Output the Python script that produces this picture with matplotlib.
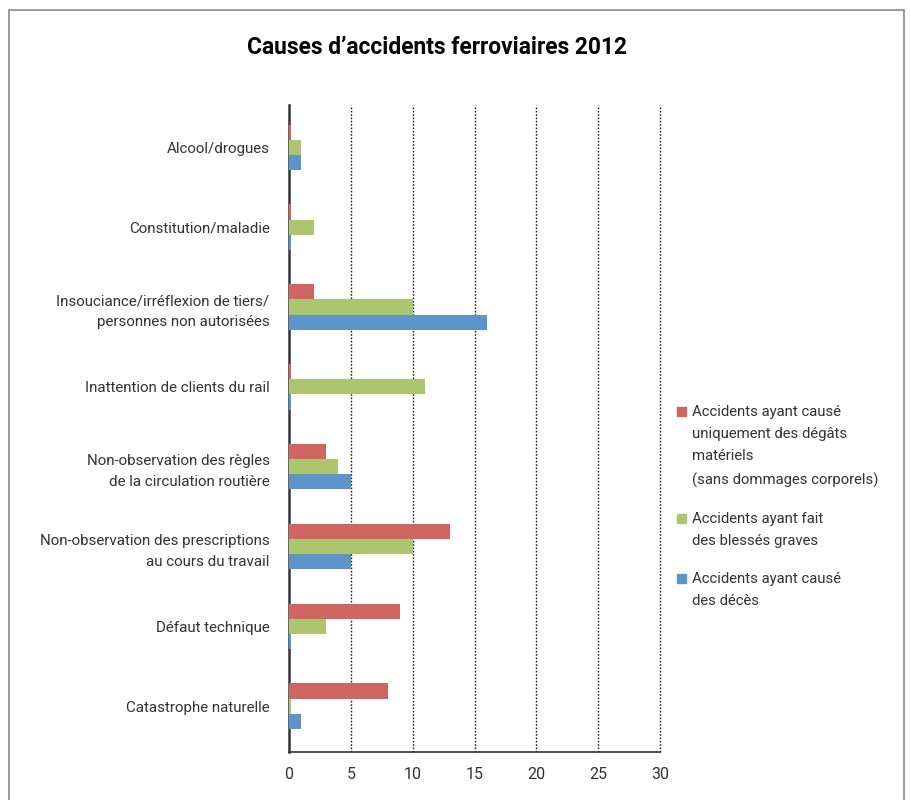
import numpy as np
import matplotlib
matplotlib.use("Agg")
import matplotlib.pyplot as plt
from matplotlib.patches import Rectangle

plt.rcParams['font.family'] = ['Roboto', 'DejaVu Sans']

categories = [
    "Alcool/drogues",
    "Constitution/maladie",
    "Insouciance/irréflexion de tiers/\npersonnes non autorisées",
    "Inattention de clients du rail",
    "Non-observation des règles\nde la circulation routière",
    "Non-observation des prescriptions\nau cours du travail",
    "Défaut technique",
    "Catastrophe naturelle",
]
degats_materiels = [0, 0, 2, 0, 3, 13, 9, 8]
blesses_graves = [1, 2, 10, 11, 4, 10, 3, 0]
deces = [1, 0, 16, 0, 5, 5, 0, 1]

series_labels = [
    "Accidents ayant causé\nuniquement des dégâts\nmatériels\n(sans dommages corporels)",
    "Accidents ayant fait\ndes blessés graves",
    "Accidents ayant causé\ndes décès",
]
colors = ["#CF6661", "#AEC56F", "#5D95CA"]
x_ticks = [0, 5, 10, 15, 20, 25, 30]
title = "Causes d\u2019accidents ferroviaires 2012"

W, H = 912, 800
fig = plt.figure(figsize=(W / 100, H / 100), dpi=100)

# outer frame (runs past the bottom edge)
fig.add_artist(Rectangle((9 / W, -0.05), (904 - 9) / W, 1 - 10 / H + 0.05,
                         transform=fig.transFigure, fill=False,
                         edgecolor="#8a8a8a", linewidth=1.2))

ax = fig.add_axes([289 / W, 1 - 752 / H, (660 - 289) / W, (752 - 105) / H])

n = len(categories)
centers = np.arange(n)
bh = 0.19
stub = 0.2  # zero values are shown as a thin stub
series = [degats_materiels, blesses_graves, deces]
offsets = [-bh, 0, bh]
for vals, off, c in zip(series, offsets, colors):
    v = np.asarray(vals, dtype=float)
    ax.barh(centers + off, np.where(v == 0, stub, v), height=bh, color=c,
            edgecolor="none", zorder=3)

ax.set_ylim(n - 1 + 0.575, -0.53)
ax.set_xlim(0, 30)
ax.set_xticks(x_ticks)
ax.set_xticklabels([str(t) for t in x_ticks], fontsize=11.5, color="#333333")
ax.set_yticks(centers)
ax.set_yticklabels(categories, fontsize=10.9, color="#333333",
                   linespacing=1.6)
ax.tick_params(axis="x", length=0, pad=11)
ax.tick_params(axis="y", length=0, pad=14)
for lbl in ax.get_yticklabels():
    lbl.set_horizontalalignment("right")
    lbl.set_multialignment("right")

for t in x_ticks[1:]:
    ax.axvline(t, color="#222222", linestyle=(0, (1.2, 1.2)), linewidth=1.0,
               zorder=1, clip_on=False)

for s in ["top", "right"]:
    ax.spines[s].set_visible(False)
ax.spines["left"].set_color("#333333")
ax.spines["left"].set_linewidth(1.8)
ax.spines["left"].set_zorder(2)
ax.spines["bottom"].set_color("#333333")
ax.spines["bottom"].set_linewidth(1.2)

fig.text(437 / W, 1 - 48 / H, title, ha="center", va="center",
         fontsize=16.4, fontweight="bold", color="#000000")

# legend
leg_tops = [411, 518, 578]
for lab, c, y in zip(series_labels, colors, leg_tops):
    fig.add_artist(Rectangle((677 / W, 1 - (y + 5) / H), 9 / W, 9 / H,
                             transform=fig.transFigure, color=c))
    fig.text(692 / W, 1 - (y - 6) / H, lab, ha="left", va="top",
             fontsize=10.7, color="#333333", linespacing=1.75)

fig.savefig("out.png", dpi=100)
